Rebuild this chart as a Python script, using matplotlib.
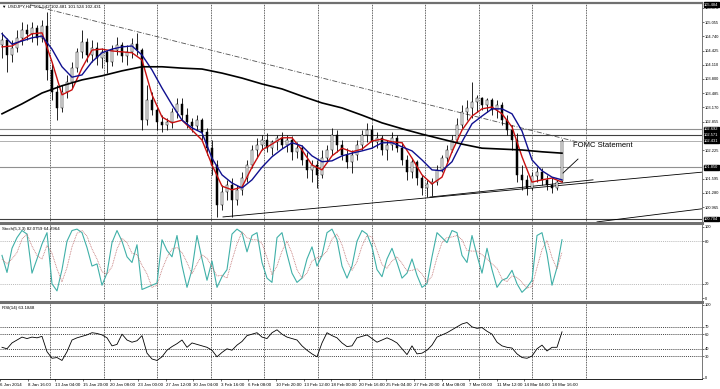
import matplotlib
matplotlib.use('Agg')
import matplotlib.pyplot as plt
import matplotlib.transforms as mtransforms
from matplotlib.lines import Line2D
import numpy as np

plt.rcParams['font.family'] = ['Liberation Sans', 'DejaVu Sans']

# USDJPY H4, one entry per drawn candle
opens = [104.56, 104.67, 104.33, 104.49, 104.71, 104.89, 104.80, 104.93, 104.71, 104.98,
         104.00, 103.52, 103.16, 103.52, 103.74, 104.05, 104.40, 104.62, 104.33, 104.49,
         104.27, 104.40, 104.18, 104.45, 104.56, 104.31, 104.40, 104.58, 104.45, 102.90,
         103.34, 103.12, 102.85, 102.79, 102.85, 103.07, 103.25, 103.01, 102.85, 102.76,
         102.90, 102.63, 102.28, 101.90, 101.02, 101.30, 101.46, 101.13, 101.35, 101.61,
         101.90, 102.23, 102.34, 102.45, 102.28, 102.41, 102.50, 102.34, 102.45, 102.19,
         102.28, 102.01, 101.79, 101.90, 101.68, 102.06, 102.23, 102.56, 102.34, 102.12,
         101.97, 102.12, 102.34, 102.56, 102.67, 102.41, 102.50, 102.23, 102.34, 102.50,
         102.28, 102.01, 101.75, 101.97, 101.61, 101.39, 101.48, 101.53, 101.79, 102.06,
         102.23, 102.45, 102.79, 103.07, 103.16, 103.29, 103.38, 103.23, 103.34, 103.12,
         103.23, 102.90, 102.67, 102.45, 101.68, 101.57, 101.39, 101.66, 101.75, 101.57,
         101.46, 101.39, 101.542]
highs = [104.84, 104.71, 104.67, 104.89, 105.06, 105.02, 105.06, 105.00, 105.11, 105.28,
         104.18, 103.67, 103.67, 103.89, 104.18, 104.49, 104.89, 104.71, 104.67, 104.62,
         104.49, 104.45, 104.56, 104.73, 104.62, 104.56, 104.71, 104.82, 104.49, 103.67,
         103.52, 103.23, 103.01, 102.94, 103.16, 103.38, 103.38, 103.16, 102.94, 103.01,
         102.94, 102.72, 102.45, 102.01, 101.46, 101.57, 101.61, 101.46, 101.75, 102.01,
         102.34, 102.50, 102.56, 102.61, 102.45, 102.56, 102.63, 102.56, 102.54, 102.41,
         102.34, 102.19, 102.01, 102.01, 102.23, 102.34, 102.72, 102.67, 102.45, 102.28,
         102.23, 102.45, 102.67, 102.83, 102.79, 102.63, 102.56, 102.45, 102.63, 102.56,
         102.41, 102.12, 102.06, 102.01, 101.68, 101.57, 101.61, 101.90, 102.12, 102.34,
         102.56, 102.94, 103.23, 103.34, 103.74, 103.45, 103.40, 103.38, 103.38, 103.34,
         103.29, 103.01, 102.79, 102.61, 101.90, 101.68, 101.75, 101.86, 101.84, 101.68,
         101.61, 101.57, 102.481]
lows = [104.27, 103.96, 104.18, 104.40, 104.56, 104.67, 104.62, 104.56, 104.62, 103.78,
        103.34, 102.90, 103.07, 103.38, 103.60, 103.96, 104.27, 104.18, 104.18, 104.11,
        104.05, 103.94, 104.09, 104.33, 104.18, 104.11, 104.27, 104.33, 102.67, 102.79,
        103.01, 102.67, 102.63, 102.67, 102.72, 102.94, 102.90, 102.72, 102.63, 102.67,
        102.45, 102.12, 101.68, 100.75, 100.91, 101.13, 100.75, 101.02, 101.24, 101.53,
        101.84, 102.06, 102.23, 102.19, 102.12, 102.23, 102.28, 102.19, 102.01, 102.06,
        101.90, 101.61, 101.53, 101.39, 101.61, 101.97, 102.12, 102.19, 102.01, 101.84,
        101.72, 102.01, 102.23, 102.41, 102.28, 102.28, 102.12, 102.01, 102.23, 102.19,
        101.90, 101.57, 101.61, 101.46, 101.24, 101.19, 101.22, 101.46, 101.75, 101.97,
        102.19, 102.41, 102.72, 102.90, 102.94, 103.07, 103.12, 103.07, 103.01, 102.94,
        102.79, 102.56, 102.23, 101.53, 101.35, 101.24, 101.35, 101.53, 101.46, 101.35,
        101.28, 101.35, 101.524]
closes = [104.67, 104.33, 104.49, 104.71, 104.89, 104.80, 104.93, 104.71, 104.98, 104.00,
          103.52, 103.16, 103.52, 103.74, 104.05, 104.40, 104.62, 104.33, 104.49, 104.27,
          104.40, 104.18, 104.45, 104.56, 104.31, 104.40, 104.58, 104.45, 102.90, 103.34,
          103.12, 102.85, 102.79, 102.85, 103.07, 103.25, 103.01, 102.85, 102.76, 102.90,
          102.63, 102.28, 101.90, 101.02, 101.30, 101.46, 101.13, 101.35, 101.61, 101.90,
          102.23, 102.34, 102.45, 102.28, 102.41, 102.50, 102.34, 102.45, 102.19, 102.28,
          102.01, 101.79, 101.90, 101.68, 102.06, 102.23, 102.56, 102.34, 102.12, 101.97,
          102.12, 102.34, 102.56, 102.67, 102.41, 102.50, 102.23, 102.34, 102.50, 102.28,
          102.01, 101.75, 101.97, 101.61, 101.39, 101.48, 101.53, 101.79, 102.06, 102.23,
          102.45, 102.79, 103.07, 103.16, 103.29, 103.38, 103.23, 103.34, 103.12, 103.23,
          102.90, 102.67, 102.45, 101.68, 101.57, 101.39, 101.66, 101.75, 101.57, 101.46,
          101.39, 101.53, 102.431]

# moving averages, one value every 2 candles (fast, slow) and every 4 candles (long)
ma_fast = [104.51, 104.53, 104.66, 104.80, 104.82, 104.18, 103.45, 103.56, 104.04, 104.44,
           104.46, 104.42, 104.40, 104.38, 104.22, 103.45, 102.96, 102.83, 102.89, 102.67,
           102.45, 101.90, 101.43, 101.35, 101.41, 101.85, 102.23, 102.36, 102.50, 102.50,
           102.23, 101.90, 101.79, 102.10, 102.27, 102.19, 102.25, 102.43, 102.47, 102.41,
           102.39, 102.05, 101.68, 101.48, 101.63, 102.19, 102.67, 102.98, 103.14, 103.18,
           103.03, 102.74, 102.08, 101.52, 101.57, 101.61, 101.52]
ma_slow = [104.80, 104.57, 104.64, 104.71, 104.75, 104.46, 104.07, 103.84, 103.89, 104.18,
           104.38, 104.46, 104.51, 104.53, 104.33, 104.00, 103.60, 103.23, 102.89, 102.72,
           102.61, 102.05, 101.68, 101.50, 101.39, 101.57, 101.85, 102.08, 102.25, 102.39,
           102.32, 102.10, 101.97, 101.99, 102.10, 102.16, 102.21, 102.27, 102.39, 102.39,
           102.30, 102.21, 102.01, 101.79, 101.77, 101.97, 102.41, 102.81, 102.98, 103.14,
           103.14, 103.03, 102.65, 102.01, 101.77, 101.63, 101.57]
ma_long = [103.03, 103.25, 103.49, 103.65, 103.78, 103.87, 103.98, 104.07, 104.07, 104.04,
           104.02, 103.93, 103.82, 103.69, 103.58, 103.42, 103.27, 103.16, 103.00, 102.83,
           102.70, 102.58, 102.47, 102.36, 102.27, 102.25, 102.23, 102.19, 102.16]

stoch_k = [60, 36, 70, 85, 95, 90, 35, 55, 76, 92,
           20, 10, 40, 80, 95, 97, 92, 71, 45, 48,
           18, 35, 78, 95, 80, 58, 50, 75, 12, 15,
           18, 21, 82, 67, 58, 88, 46, 15, 40, 88,
           55, 25, 52, 15, 30, 40, 90, 97, 92, 65,
           88, 92, 50, 28, 22, 85, 92, 62, 35, 22,
           28, 55, 72, 45, 60, 92, 97, 82, 45, 28,
           45, 80, 95, 90, 72, 40, 30, 55, 70, 50,
           28, 35, 55, 32, 15, 20, 58, 92, 85, 78,
           95, 92, 60, 50, 88, 60, 35, 70, 40, 15,
           25, 28, 39, 20, 8, 15, 25, 88, 92, 62,
           18, 43, 82.0759]
stoch_d = [55, 48, 55, 64, 83, 90, 73, 60, 55, 74,
           63, 41, 23, 43, 72, 91, 95, 87, 69, 55,
           37, 34, 44, 69, 84, 78, 63, 61, 46, 34,
           15, 18, 40, 57, 69, 71, 64, 50, 34, 48,
           61, 56, 44, 31, 32, 28, 53, 76, 93, 85,
           82, 82, 77, 57, 33, 45, 66, 80, 63, 40,
           28, 35, 52, 57, 59, 66, 83, 90, 75, 52,
           39, 51, 73, 88, 86, 67, 47, 42, 52, 58,
           49, 38, 39, 41, 34, 22, 31, 57, 78, 85,
           86, 88, 82, 67, 66, 66, 61, 55, 48, 42,
           27, 23, 31, 29, 22, 14, 16, 43, 68, 81,
           57, 41, 64.2964]
rsi = [42, 40, 48, 52, 56, 54, 56, 55, 57, 36,
       27, 28, 24, 36, 52, 55, 57, 59, 62, 61,
       59, 55, 44, 46, 60, 52, 49, 51, 58, 34,
       26, 24, 29, 38, 43, 47, 52, 42, 48, 46,
       44, 42, 38, 29, 35, 40, 38, 45, 50, 58,
       60, 62, 56, 54, 62, 66, 60, 56, 54, 52,
       44, 38, 33, 29, 48, 62, 58, 55, 48, 43,
       44, 55, 57, 59, 54, 49, 52, 55, 52, 48,
       40, 32, 44, 33, 34, 38, 45, 56, 59, 62,
       66, 70, 74, 76, 70, 68, 69, 64, 60, 49,
       44, 42, 41, 33, 28, 27, 30, 40, 45, 37,
       42, 42, 63.1848]

date_labels = ['6 Jan 2014', '8 Jan 16:00', '13 Jan 04:00', '15 Jan 20:00', '20 Jan 08:00',
               '23 Jan 00:00', '27 Jan 12:00', '30 Jan 04:00', '3 Feb 16:00', '6 Feb 08:00',
               '10 Feb 20:00', '13 Feb 12:00', '18 Feb 00:00', '20 Feb 16:00', '25 Feb 04:00',
               '27 Feb 20:00', '4 Mar 08:00', '7 Mar 00:00', '11 Mar 12:00', '14 Mar 04:00',
               '18 Mar 16:00']
price_ticks = [105.370, 105.055, 104.740, 104.425, 104.110, 103.800, 103.485, 103.170,
               102.855, 102.225, 101.595, 101.280, 100.965]
# support / resistance lines (price) and trendlines (candle index, price)
levels = {'102.692': 102.692, '102.571': 102.571, '101.850': 101.850, '100.704': 100.704}
bid = 102.431
trend_lines = [((44.2, 100.75), (140.0, 101.74)),
               ((85.6, 101.19), (118.2, 101.57)),
               ((119.0, 100.64), (140.0, 100.93))]
channel_top = ((5.6, 105.44), (115.0, 102.41))
fomc_arrow = ((112.2, 101.72), (115.2, 102.03))

W, H = 720.0, 389.0
n = len(closes)
idx = np.arange(n)
x_lo, x_hi = -0.4, 140.0


def box(y0, y1):
    return [0, 1 - y1 / H, 702 / W, (y1 - y0) / H]


fig = plt.figure(figsize=(7.2, 3.89), dpi=100, facecolor='white')
ax1 = fig.add_axes(box(3, 222))
ax2 = fig.add_axes(box(224, 300))
ax3 = fig.add_axes(box(303, 379))

for ax in (ax1, ax2, ax3):
    ax.set_xlim(x_lo, x_hi)
    ax.yaxis.tick_right()
    ax.tick_params(axis='y', labelsize=2.9, length=1.2, width=0.4, pad=0.6, colors='black')
    for s in ('left', 'top', 'bottom'):
        ax.spines[s].set_visible(False)
    ax.spines['right'].set_linewidth(0.6)
    ax.spines['right'].set_color('#606060')
    ax.set_xticks([])
    # vertical dotted grid
    for g in range(11):
        ax.axvline((50 + 53.6 * g - 2) / 5.0, color='black', lw=0.5, ls=(0, (1.2, 1.2)), zorder=0)

# ---- main price panel
ax1.set_ylim(100.638, 105.48)
ax1.set_yticks(price_ticks)
ax1.set_yticklabels(['%.3f' % p for p in price_ticks])

for name, lv in levels.items():
    col = '#404040' if name in ('102.571', '100.704') else '#909090'
    ax1.axhline(lv, color=col, lw=0.8, zorder=1)
ax1.axhline(bid, color='#b0b0b0', lw=0.7, zorder=1)

up = np.array(closes) >= np.array(opens)
ax1.vlines(idx, lows, highs, color='black', lw=0.6, zorder=3)
ax1.bar(idx, np.array(closes) - np.array(opens), bottom=opens, width=0.55,
        color=np.where(up, 'white', 'black'), edgecolor='black', linewidth=0.35, zorder=4)

ax1.plot(np.arange(0, n, 2), ma_fast, color='#c81010', lw=1.0, zorder=5)
ax1.plot(np.arange(0, n, 2), ma_slow, color='#101090', lw=1.0, zorder=5)
ax1.plot(np.arange(0, n, 4), ma_long, color='black', lw=1.2, zorder=5)

for (a, b) in trend_lines:
    ax1.plot([a[0], b[0]], [a[1], b[1]], color='black', lw=0.6, zorder=2)
ax1.plot([channel_top[0][0], channel_top[1][0]], [channel_top[0][1], channel_top[1][1]],
         color='#505050', lw=0.6, ls=(0, (6, 2, 1, 2)), zorder=2)
ax1.plot([fomc_arrow[0][0], fomc_arrow[1][0]], [fomc_arrow[0][1], fomc_arrow[1][1]],
         color='black', lw=0.6, zorder=6)
ax1.text(114.2, 102.33, 'FOMC Statement', fontsize=5.5, va='center', ha='left')

ax1.text(2 / 702, 0.995, '\u25bc USDJPY,H4  101.542 102.481 101.524 102.431',
         transform=ax1.transAxes, fontsize=3.2, va='top', ha='left')

tr1 = mtransforms.blended_transform_factory(ax1.transAxes, ax1.transData)
box_style = dict(boxstyle='square,pad=0.12', fc='black', ec='black')
for name, lv in list(levels.items()) + [('%.3f' % bid, bid), ('105.484', 105.44)]:
    ax1.text(1.003, lv, name, transform=tr1, fontsize=2.9, color='white', va='center',
             ha='left', bbox=box_style, zorder=10, clip_on=False)

# ---- stochastic panel
ax2.set_ylim(-2.8, 104.2)
ax2.set_yticks([100, 80, 20, 0])
ax2.set_yticklabels(['100', '80', '20', '0'])
for lv in (80, 20):
    ax2.axhline(lv, color='#a0a0a0', lw=0.5, ls=(0, (1.5, 1.5)), zorder=1)
ax2.plot(idx, stoch_k, color='#40b0a8', lw=0.8, zorder=3)
ax2.plot(idx, stoch_d, color='#c07070', lw=0.6, ls=(0, (1, 1)), zorder=4)
ax2.text(2 / 702, 0.96, 'Stoch(5,3,3) 82.0759 64.2964', transform=ax2.transAxes,
         fontsize=3.2, va='top', ha='left')

# ---- RSI panel
ax3.set_ylim(-1.4, 102.7)
ax3.set_yticks([100, 70, 60, 40, 30, 0])
ax3.set_yticklabels(['100', '70', '60', '40', '30', '0'])
for lv in (70, 60, 40, 30):
    ax3.axhline(lv, color='black', lw=0.5, ls=(0, (1.5, 1.5)), zorder=1)
ax3.plot(idx, rsi, color='black', lw=0.6, zorder=3)
ax3.text(2 / 702, 0.96, 'RSI(14) 63.1848', transform=ax3.transAxes,
         fontsize=3.2, va='top', ha='left')
ax3.spines['bottom'].set_visible(True)
ax3.spines['bottom'].set_linewidth(0.6)
ax3.set_xticks([(27.6 * k - 2) / 5.0 for k in range(len(date_labels))])
ax3.set_xticklabels(date_labels, fontsize=3.2, ha='left')
ax3.tick_params(axis='x', length=1.5, width=0.4, pad=1.5)

# panel separators
for y, lw in ((3, 1.6), (222.8, 2.2), (301.5, 2.2)):
    fig.add_artist(Line2D([0, 702 / W], [1 - y / H, 1 - y / H], transform=fig.transFigure,
                          color='#707070', lw=lw))

fig.savefig('out.png', dpi=100, facecolor='white')
